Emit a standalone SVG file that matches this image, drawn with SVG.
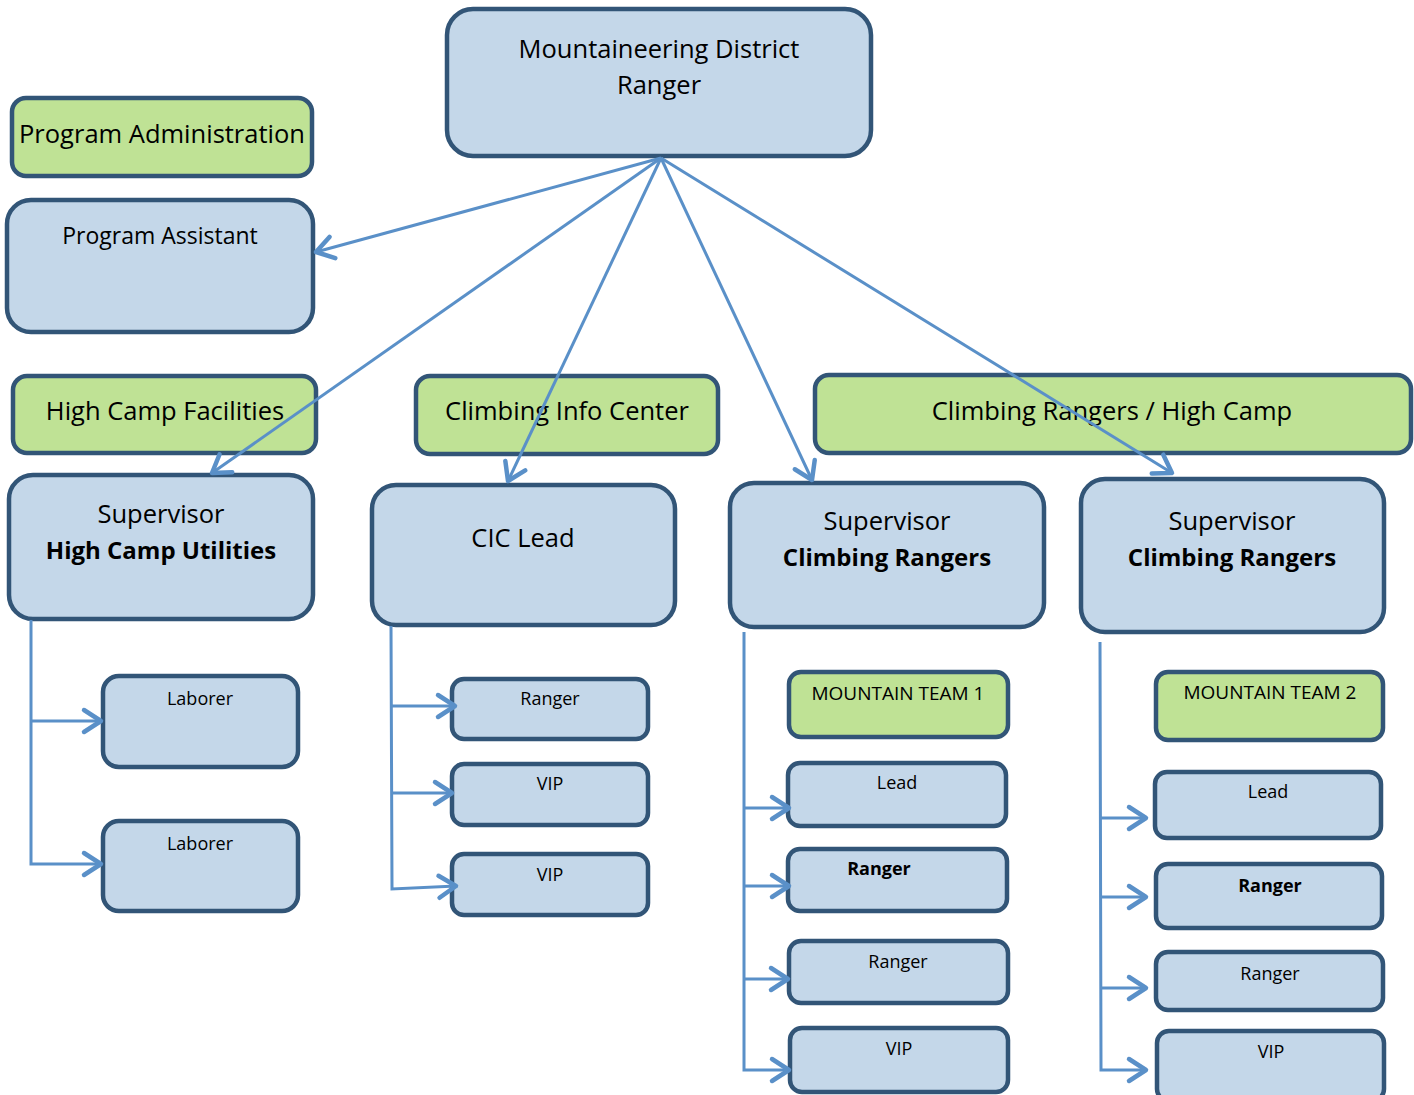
<svg xmlns="http://www.w3.org/2000/svg" width="1414" height="1095" viewBox="0 0 1414 1095">
<style>
.b{fill:#c4d7e9;stroke:#325577;stroke-width:4.5}
.g{fill:#bfe295;stroke:#325577;stroke-width:4.5}
.t{font-family:"Open Sans","Liberation Sans",sans-serif;fill:#000;text-anchor:middle}
.L{font-size:25.5px}
.S{font-size:18px}
.M{font-size:19px}
.B{font-size:24px;font-weight:bold}
.bd{font-weight:bold}
.c{fill:none;stroke:#5a90c8;stroke-width:3}
</style>
<defs>
<marker id="ar" markerUnits="userSpaceOnUse" markerWidth="40" markerHeight="40" refX="0" refY="0" viewBox="-25 -20 30 40" orient="auto" overflow="visible">
<path d="M-17,-11 L0,0 L-17,11" fill="none" stroke="#5a90c8" stroke-width="4.5" stroke-linecap="round" stroke-linejoin="round"/>
</marker>
</defs>
<rect width="1414" height="1095" fill="#fff"/>

<g id="n-top"><rect class="b" x="447" y="9" width="424" height="147" rx="26"/><text class="t L" x="659" y="58">Mountaineering District</text><text class="t L" x="659" y="94">Ranger</text></g>
<g id="n-progadmin"><rect class="g" x="12" y="98" width="300" height="78" rx="14"/><text class="t L" x="162" y="143">Program Administration</text></g>
<g id="n-progassist"><rect class="b" x="7" y="200" width="306" height="132" rx="24"/><text class="t" x="160" y="244" style="font-size:23px">Program Assistant</text></g>
<g id="n-hcf"><rect class="g" x="13" y="376" width="303" height="77" rx="14"/><text class="t L" x="165" y="420">High Camp Facilities</text></g>
<g id="n-hcu"><rect class="b" x="9" y="475" width="304" height="144" rx="24"/><text class="t L" x="161" y="523">Supervisor</text><text class="t B" x="161" y="559">High Camp Utilities</text></g>
<g id="n-lab1"><rect class="b" x="103" y="676" width="195" height="91" rx="16"/><text class="t S" x="200" y="705">Laborer</text></g>
<g id="n-lab2"><rect class="b" x="103" y="821" width="195" height="90" rx="16"/><text class="t S" x="200" y="850">Laborer</text></g>

<g id="n-cic"><rect class="g" x="416" y="376" width="302" height="78" rx="14"/><text class="t L" x="567" y="420">Climbing Info Center</text></g>
<g id="n-ciclead"><rect class="b" x="372" y="485" width="303" height="140" rx="24"/><text class="t L" x="523" y="547">CIC Lead</text></g>
<g id="n-cicr"><rect class="b" x="452" y="679" width="196" height="60" rx="12"/><text class="t S" x="550" y="705">Ranger</text></g>
<g id="n-cicv1"><rect class="b" x="452" y="764" width="196" height="61" rx="12"/><text class="t S" x="550" y="790">VIP</text></g>
<g id="n-cicv2"><rect class="b" x="452" y="854" width="196" height="61" rx="12"/><text class="t S" x="550" y="881">VIP</text></g>

<g id="n-crhc"><rect class="g" x="815" y="375" width="596" height="78" rx="14"/><text class="t L" x="1112" y="420">Climbing Rangers / High Camp</text></g>
<g id="n-scr1"><rect class="b" x="730" y="483" width="314" height="144" rx="24"/><text class="t L" x="887" y="530">Supervisor</text><text class="t B" x="887" y="566">Climbing Rangers</text></g>
<g id="n-scr2"><rect class="b" x="1081" y="479" width="303" height="153" rx="24"/><text class="t L" x="1232" y="530">Supervisor</text><text class="t B" x="1232" y="566">Climbing Rangers</text></g>

<g id="n-mt1"><rect class="g" x="789" y="672" width="219" height="65" rx="12"/><text class="t M" x="898" y="700">MOUNTAIN TEAM 1</text></g>
<g id="n-mt1lead"><rect class="b" x="788" y="763" width="218" height="63" rx="12"/><text class="t S" x="897" y="789">Lead</text></g>
<g id="n-mt1r1"><rect class="b" x="788" y="849" width="219" height="62" rx="12"/><text class="t S bd" x="879" y="875">Ranger</text></g>
<g id="n-mt1r2"><rect class="b" x="789" y="941" width="219" height="62" rx="12"/><text class="t S" x="898" y="968">Ranger</text></g>
<g id="n-mt1v"><rect class="b" x="790" y="1028" width="218" height="64" rx="12"/><text class="t S" x="899" y="1055">VIP</text></g>

<g id="n-mt2"><rect class="g" x="1156" y="672" width="227" height="68" rx="12"/><text class="t M" x="1270" y="699">MOUNTAIN TEAM 2</text></g>
<g id="n-mt2lead"><rect class="b" x="1155" y="772" width="226" height="66" rx="12"/><text class="t S" x="1268" y="798">Lead</text></g>
<g id="n-mt2r1"><rect class="b" x="1156" y="864" width="226" height="64" rx="12"/><text class="t S bd" x="1270" y="892">Ranger</text></g>
<g id="n-mt2r2"><rect class="b" x="1156" y="952" width="227" height="58" rx="12"/><text class="t S" x="1270" y="980">Ranger</text></g>
<g id="n-mt2v"><rect class="b" x="1157" y="1031" width="227" height="70" rx="12"/><text class="t S" x="1271" y="1058">VIP</text></g>

<g id="connectors">
<line class="c" x1="661" y1="158" x2="316" y2="252" marker-end="url(#ar)"/>
<line class="c" x1="661" y1="158" x2="212" y2="473" marker-end="url(#ar)"/>
<line class="c" x1="661" y1="158" x2="508" y2="481" marker-end="url(#ar)"/>
<line class="c" x1="661" y1="158" x2="812" y2="480" marker-end="url(#ar)"/>
<line class="c" x1="661" y1="158" x2="1172" y2="473" marker-end="url(#ar)"/>

<polyline class="c" points="31,620 31,864 101,864" marker-end="url(#ar)"/>
<line class="c" x1="31" y1="721" x2="101" y2="721" marker-end="url(#ar)"/>

<polyline class="c" points="391,626 392,889 456,886" marker-end="url(#ar)"/>
<line class="c" x1="392" y1="706" x2="455" y2="706" marker-end="url(#ar)"/>
<line class="c" x1="392" y1="793" x2="452" y2="793" marker-end="url(#ar)"/>

<polyline class="c" points="744,632 744,1070 789,1070" marker-end="url(#ar)"/>
<line class="c" x1="744" y1="808" x2="789" y2="808" marker-end="url(#ar)"/>
<line class="c" x1="744" y1="886" x2="789" y2="886" marker-end="url(#ar)"/>
<line class="c" x1="744" y1="979" x2="788" y2="979" marker-end="url(#ar)"/>

<polyline class="c" points="1100,642 1101,1070 1146,1070" marker-end="url(#ar)"/>
<line class="c" x1="1101" y1="818" x2="1146" y2="818" marker-end="url(#ar)"/>
<line class="c" x1="1101" y1="897" x2="1146" y2="897" marker-end="url(#ar)"/>
<line class="c" x1="1101" y1="988" x2="1146" y2="988" marker-end="url(#ar)"/>
</g>
</svg>
